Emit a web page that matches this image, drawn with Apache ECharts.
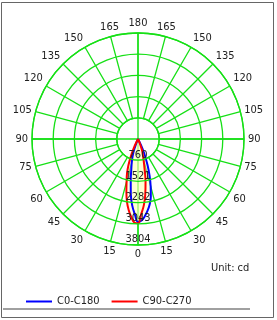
<!DOCTYPE html>
<html><head><meta charset="utf-8">
<script src="https://cdn.jsdelivr.net/npm/echarts@6/dist/echarts.min.js"></script>
<style>html,body{margin:0;padding:0;background:#fff}#c{width:277px;height:320px}</style>
</head><body><div id="c"></div>
<script>
// gamma angles (degrees from nadir) at which intensities were read
const gammaDeg = [0, 2.5, 5, 7.5, 10, 12.5, 15, 17.5, 20, 22.5, 25, 27.5, 30];
// C0-C180 (blue): left half and right half, cd
const blueLeft  = [2975, 2690, 2390, 1985, 1500, 1110, 860, 640, 400, 130, 0, 0, 0];
const blueRight = [2975, 2930, 2785, 2605, 2395, 2125, 1755, 1380, 1005, 650, 370, 120, 0];
// C90-C270 (red): left half and right half, cd
const redLeft   = [3026, 3000, 2805, 2570, 2285, 1925, 1580, 1315, 1005, 655, 360, 120, 0];
const redRight  = [3026, 2690, 2390, 2000, 1560, 1080, 760, 560, 400, 160, 0, 0, 0];
// ring (radius) scale
const ringMax = 3804;
const ringCount = 5;
const angleStep = 15;
const seriesNames = ['C0-C180', 'C90-C270'];
const unitText = 'Unit: cd';

const FONT = "'DejaVu Sans Condensed', 'DejaVu Sans', sans-serif";
const G = '#16e016';
const GW = 1.3;

function lobe(left, right) {
  const pts = [];
  for (let i = gammaDeg.length - 1; i >= 0; i--) pts.push([left[i], gammaDeg[i]]);
  for (let i = 1; i < gammaDeg.length; i++) pts.push([right[i], 360 - gammaDeg[i]]);
  return pts;
}

const chart = echarts.init(document.getElementById('c'), null, {renderer: 'canvas'});
const R = 106, C = [138, 139];
chart.setOption({
  animation: false,
  title: {text: unitText, left: 211, top: 263, padding: 0,
    textStyle: {fontSize: 11, fontWeight: 'normal', color: '#222', fontFamily: FONT}},
  legend: {data: seriesNames, left: 26, top: 296, icon: 'rect', itemWidth: 26, itemHeight: 2,
    itemGap: 12, padding: 0, textStyle: {fontSize: 11, color: '#222', fontFamily: FONT}},
  polar: [
    {center: C, radius: [0, R]},
    {center: C, radius: [R / ringCount, R]}
  ],
  angleAxis: [
    {polarIndex: 0, type: 'value', min: 0, max: 360, interval: 90, startAngle: 270, clockwise: true,
      axisLine: {show: false}, axisTick: {show: false}, axisLabel: {show: false},
      splitLine: {show: true, lineStyle: {color: G, width: GW}}},
    {polarIndex: 1, type: 'value', min: 0, max: 360, interval: angleStep, startAngle: 270, clockwise: true,
      axisLine: {show: true, lineStyle: {color: G, width: GW}}, axisTick: {show: false},
      axisLabel: {margin: 4, fontSize: 11, color: '#222', fontFamily: FONT,
        formatter: v => (v >= 360 ? '' : String(v <= 180 ? v : 360 - v))},
      splitLine: {show: true, lineStyle: {color: G, width: GW}}}
  ],
  radiusAxis: [
    {polarIndex: 0, type: 'value', min: 0, max: ringMax, interval: ringMax / ringCount,
      axisLine: {show: false}, axisTick: {show: false}, z: 10,
      splitLine: {show: true, lineStyle: {color: G, width: GW}},
      axisLabel: {margin: 0, align: 'center', verticalAlign: 'bottom', fontSize: 11, color: '#222',
        fontFamily: FONT, formatter: v => (v <= 0 ? '' : String(Math.floor(v + 1e-6)))}},
    {polarIndex: 1, type: 'value', min: 0, max: 1, show: false}
  ],
  series: [
    {name: seriesNames[0], type: 'line', coordinateSystem: 'polar', polarIndex: 0,
      data: lobe(blueLeft, blueRight), smooth: 0.4, symbol: 'none', color: '#0000ff',
      lineStyle: {color: '#0000ff', width: 2}, areaStyle: {color: 'rgba(255,255,190,0.6)'}},
    {name: seriesNames[1], type: 'line', coordinateSystem: 'polar', polarIndex: 0,
      data: lobe(redLeft, redRight), smooth: 0.4, symbol: 'none', color: '#ff0000',
      lineStyle: {color: '#ff0000', width: 2}, areaStyle: {color: 'rgba(255,255,190,0.6)'}}
  ],
  graphic: [
    {type: 'rect', shape: {x: 1.5, y: 2.5, width: 272, height: 315}, style: {fill: null, stroke: '#666', lineWidth: 1}},
    {type: 'line', shape: {x1: 3, y1: 309, x2: 250, y2: 309}, style: {stroke: '#a0a0a0', lineWidth: 2}}
  ]
});
</script></body></html>
